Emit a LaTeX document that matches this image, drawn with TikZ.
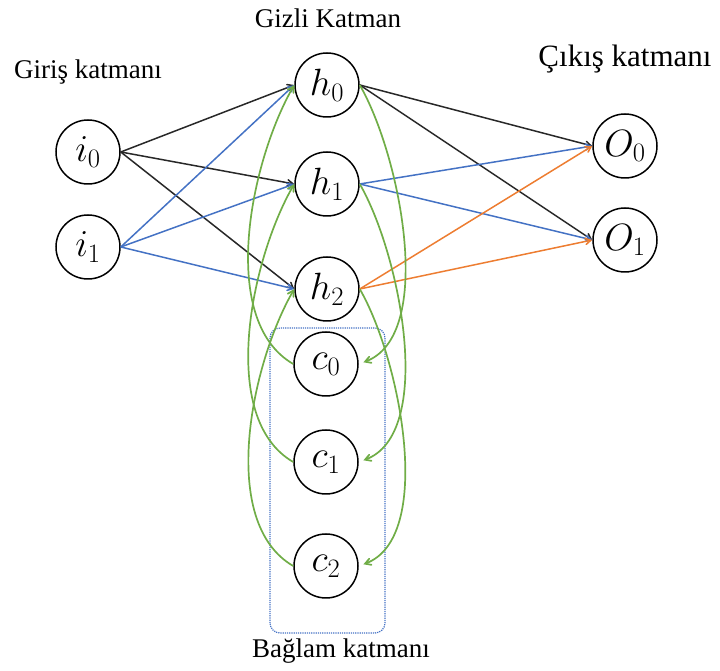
\RequirePackage{fix-cm}
\documentclass[tikz,border=0pt]{standalone}
\usepackage{amsmath}
\usepackage{fontspec}
\setmainfont{Liberation Serif}
\usepackage{xcolor}
\usepackage{tikz}
\usetikzlibrary{arrows}

\definecolor{eblue}{RGB}{68,114,196}
\definecolor{eorange}{RGB}{237,125,49}
\definecolor{egreen}{RGB}{112,173,71}
\definecolor{edark}{RGB}{40,40,40}

\begin{document}
\begin{tikzpicture}[x=1pt,y=1pt,>=angle 60,
neuron/.style={circle,draw,line width=1.5pt,minimum size=64pt,inner sep=0pt,
font=\fontsize{38}{44}\selectfont},
layer/.style={anchor=base,font=\fontsize{27}{32}\selectfont},
link/.style={->,line width=1.5pt},
loop/.style={->,line width=1.7pt,egreen,looseness=0.75}]
\useasboundingbox (0,0) rectangle (720,671);
% nodes
\node[neuron] (i0) at (88,519) {$i_0$};
\node[neuron] (i1) at (88,424) {$i_1$};
\node[neuron] (h0) at (327,586) {$h_0$};
\node[neuron] (h1) at (327,487) {$h_1$};
\node[neuron] (h2) at (327,382) {$h_2$};
\node[neuron] (c0) at (326,307) {$c_0$};
\node[neuron] (c1) at (326,209) {$c_1$};
\node[neuron] (c2) at (326,105) {$c_2$};
\node[neuron] (o0) at (625,525) {$O_0$};
\node[neuron] (o1) at (625,431) {$O_1$};
% layer names
\node[layer] (tin) at (88,592) {Giriş katmanı};
\node[layer] (thid) at (328,643) {Gizli Katman};
\node[layer,font=\fontsize{31}{36}\selectfont] (tout) at (625,604) {Çıkış katmanı};
\node[layer] (tctx) at (341,13) {Bağlam katmanı};
\draw[eblue,densely dotted,line width=1.2pt,rounded corners=10pt] (270,38) rectangle (385,343);
% input -> hidden
\path[link,edark](i0.east) edge (h0.west) edge (h1.west) edge (h2.west);
\path[link,eblue](i1.east) edge (h0.west) edge (h1.west) edge (h2.west);
% hidden -> output
\path[link,edark](h0.east) edge (o0.west) edge (o1.west);
\path[link,eblue](h1.east) edge (o0.west) edge (o1.west);
\path[link,eorange](h2.east) edge (o0.west) edge (o1.west);
% context loops
\foreach \k in {0,1,2}{
\draw[loop,shorten >=5pt] (h\k.east) to[out=-60,in=20] (c\k.east);
\draw[loop,looseness=0.8] (c\k.west) to[out=150,in=-120] (h\k.west);
}
\end{tikzpicture}
\end{document}
